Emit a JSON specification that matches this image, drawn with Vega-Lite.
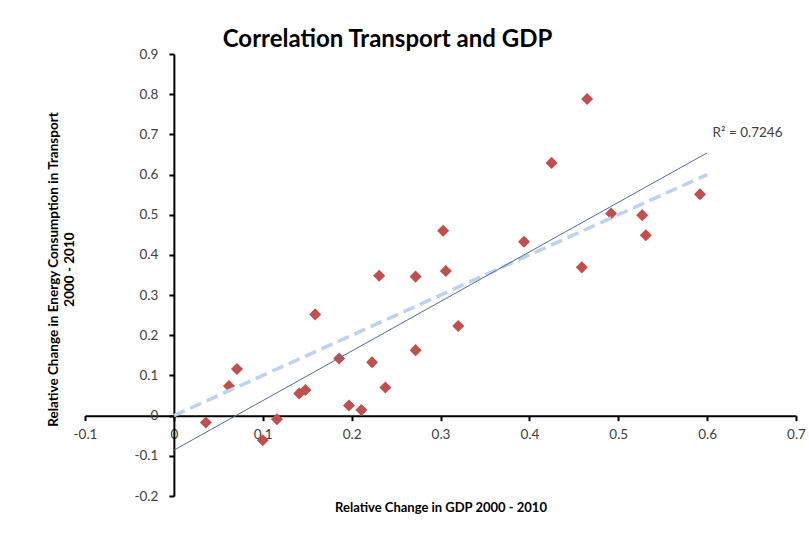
{
  "$schema": "https://vega.github.io/schema/vega-lite/v6.json",
  "width": 711,
  "height": 442,
  "autosize": {"type": "none"},
  "padding": {"left": 85, "top": 54, "right": 13, "bottom": 44},
  "background": "white",
  "config": {"view": {"stroke": null}, "font": "Lato"},
  "title": {
    "text": "Correlation Transport and GDP",
    "font": "Lato",
    "fontSize": 24,
    "fontWeight": "bold",
    "color": "black",
    "anchor": "middle",
    "dx": -53,
    "offset": -24,
    "baseline": "alphabetic"
  },
  "datasets": {
    "points": [
      {"gdp": 0.036, "energy": -0.017},
      {"gdp": 0.062, "energy": 0.074},
      {"gdp": 0.071, "energy": 0.116},
      {"gdp": 0.100, "energy": -0.061},
      {"gdp": 0.116, "energy": -0.009},
      {"gdp": 0.141, "energy": 0.055},
      {"gdp": 0.148, "energy": 0.064},
      {"gdp": 0.159, "energy": 0.252},
      {"gdp": 0.186, "energy": 0.142},
      {"gdp": 0.197, "energy": 0.025},
      {"gdp": 0.211, "energy": 0.014},
      {"gdp": 0.223, "energy": 0.133},
      {"gdp": 0.231, "energy": 0.348},
      {"gdp": 0.238, "energy": 0.070},
      {"gdp": 0.272, "energy": 0.346},
      {"gdp": 0.272, "energy": 0.163},
      {"gdp": 0.303, "energy": 0.460},
      {"gdp": 0.306, "energy": 0.360},
      {"gdp": 0.320, "energy": 0.223},
      {"gdp": 0.394, "energy": 0.433},
      {"gdp": 0.425, "energy": 0.629},
      {"gdp": 0.459, "energy": 0.369},
      {"gdp": 0.465, "energy": 0.788},
      {"gdp": 0.492, "energy": 0.503},
      {"gdp": 0.527, "energy": 0.499},
      {"gdp": 0.531, "energy": 0.449},
      {"gdp": 0.592, "energy": 0.551}
    ],
    "trend": [{"gdp": 0, "energy": -0.086}, {"gdp": 0.6, "energy": 0.654}],
    "ref": [{"gdp": 0, "energy": 0}, {"gdp": 0.6, "energy": 0.6}],
    "label": [{"gdp": 0.606, "energy": 0.703, "text": "R² = 0.7246"}]
  },
  "encoding": {
    "x": {
      "field": "gdp",
      "type": "quantitative",
      "scale": {"domain": [-0.1, 0.7], "nice": false, "zero": false},
      "axis": {
        "offset": {"expr": "scale('y', 0) - height"},
        "values": [-0.1, 0, 0.1, 0.2, 0.3, 0.4, 0.5, 0.6, 0.7],
        "labelExpr": "datum.value == 0 ? '0' : (datum.value < 0 ? '-' : '') + format(abs(datum.value), '.1f')",
        "grid": false,
        "domainColor": "black",
        "domainWidth": 2,
        "tickColor": "black",
        "tickWidth": 2,
        "tickSize": 5,
        "labelPadding": 7,
        "labelFont": "Lato",
        "labelFontSize": 13.5,
        "labelColor": "#404040",
        "labelOverlap": false,
        "labelFlush": false,
        "title": "Relative Change in GDP 2000 - 2010",
        "titleFont": "Lato",
        "titleFontSize": 13,
        "titleFontWeight": "bold",
        "titleColor": "black",
        "titleY": 92,
        "titleBaseline": "middle"
      }
    },
    "y": {
      "field": "energy",
      "type": "quantitative",
      "scale": {"domain": [-0.2, 0.9], "nice": false, "zero": false},
      "axis": {
        "offset": {"expr": "-scale('x', 0)"},
        "values": [-0.2, -0.1, 0, 0.1, 0.2, 0.3, 0.4, 0.5, 0.6, 0.7, 0.8, 0.9],
        "labelExpr": "datum.value == 0 ? '0' : (datum.value < 0 ? '-' : '') + format(abs(datum.value), '.1f')",
        "grid": false,
        "domainColor": "black",
        "domainWidth": 2,
        "tickColor": "black",
        "tickWidth": 2,
        "tickSize": 5,
        "labelPadding": 11,
        "labelFont": "Lato",
        "labelFontSize": 13.5,
        "labelColor": "#404040",
        "labelOverlap": false,
        "labelFlush": false,
        "title": ["Relative Change in  Energy Consumption in Transport", "2000 - 2010"],
        "titleFont": "Lato",
        "titleFontSize": 13.5,
        "titleFontWeight": "bold",
        "titleColor": "black",
        "titleAngle": -90,
        "titleAlign": "center",
        "titleBaseline": "middle",
        "titleLineHeight": 16,
        "titleX": -120,
        "titleY": 215
      }
    }
  },
  "layer": [
    {
      "data": {"name": "points"},
      "mark": {"type": "point", "shape": "diamond", "filled": true, "size": 145, "color": "#C0504D", "opacity": 1}
    },
    {
      "data": {"name": "ref"},
      "mark": {"type": "line", "color": "#BCD2EE", "strokeWidth": 3.5, "strokeDash": [12, 6]}
    },
    {
      "data": {"name": "trend"},
      "mark": {"type": "line", "color": "#4F6E9E", "strokeWidth": 1}
    },
    {
      "data": {"name": "label"},
      "mark": {"type": "text", "align": "left", "baseline": "middle", "font": "Lato", "fontSize": 13.5, "color": "#404040"},
      "encoding": {"text": {"field": "text"}}
    }
  ]
}
